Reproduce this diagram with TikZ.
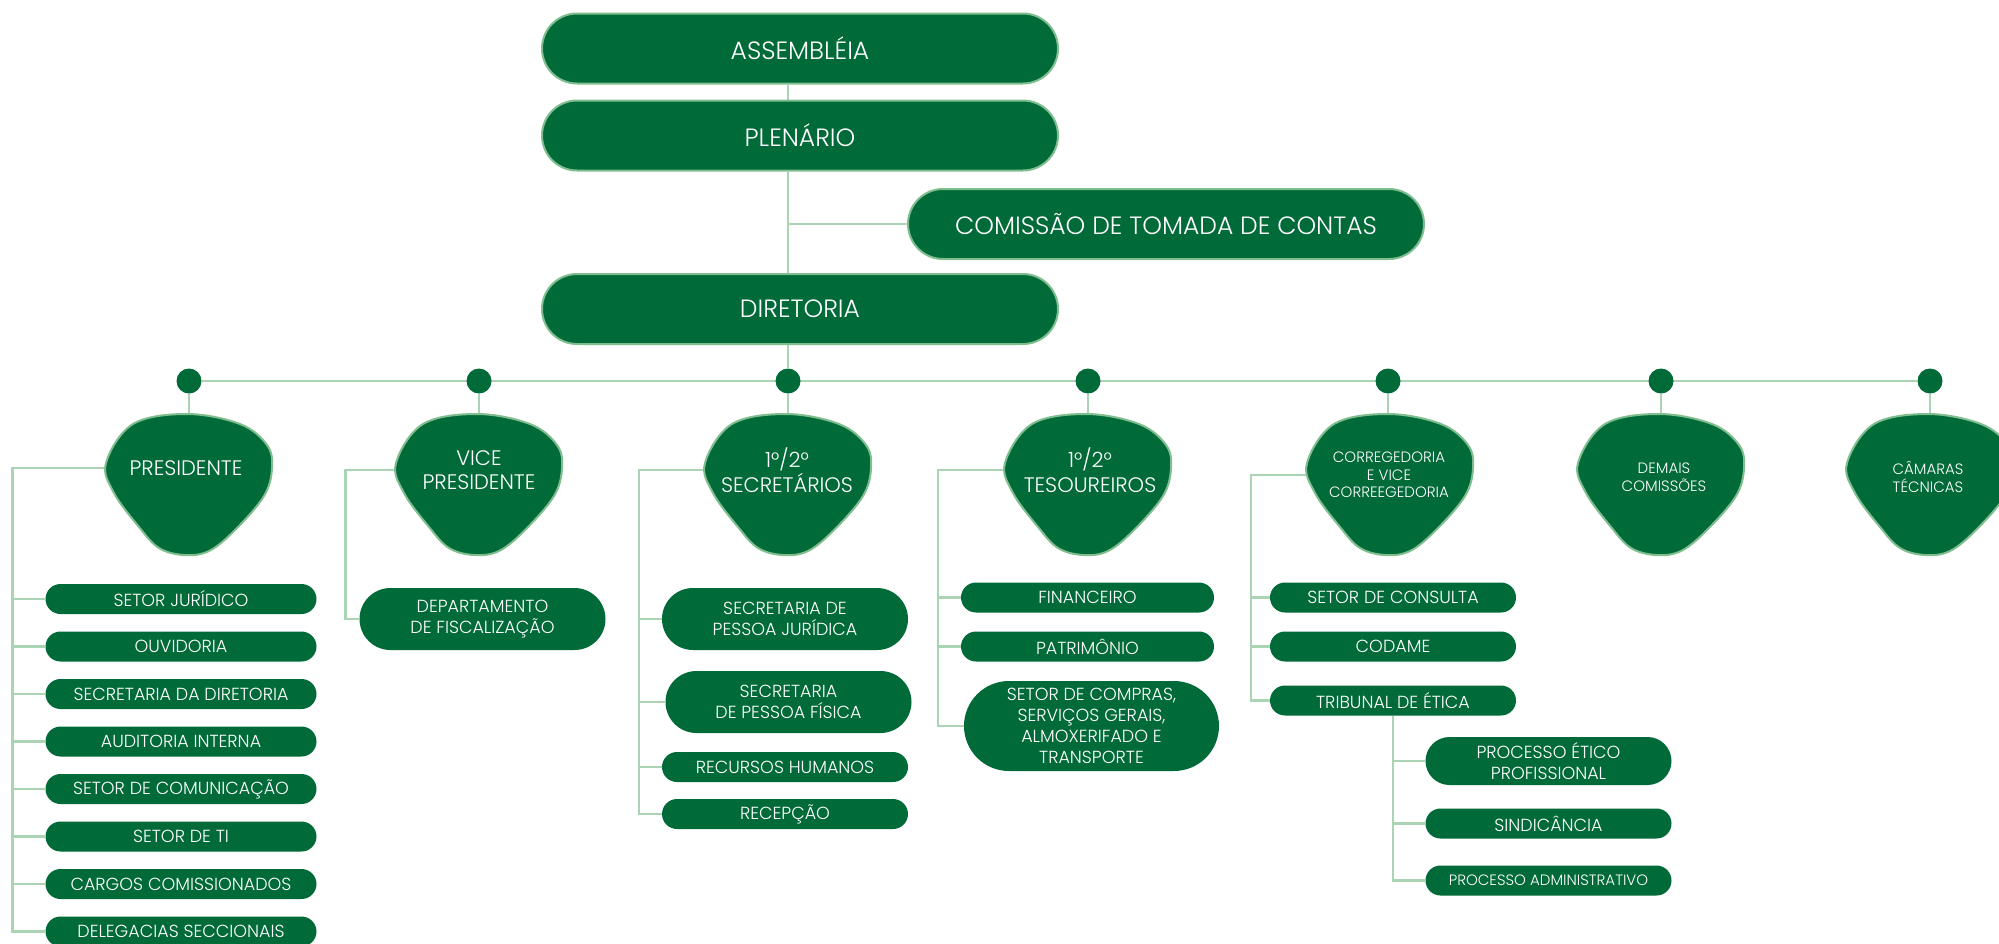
\documentclass[tikz,border=0pt]{standalone}
\usepackage{fontspec}
\setmainfont{Poppins}[UprightFont={* Light}]
\usetikzlibrary{shapes.misc}
\definecolor{dkg}{HTML}{006A38}
\definecolor{brd}{HTML}{80BE8F}
\definecolor{lin}{HTML}{AAD4B4}
\pgfdeclarelayer{back}
\pgfdeclarelayer{bg}
\pgfsetlayers{back,bg,main}
\newcommand\blobshape[1]{\fill[dkg,draw=brd,line width=2pt,shift={#1}] plot[smooth cycle,tension=0.6] coordinates {(81,0) (134,10) (161,31) (166,54) (158,82) (129,116) (103,137) (78,141) (53,134) (33,113) (8,79) (0,49) (27,10)};}
\begin{document}
\begin{tikzpicture}[x=1pt,y=-1pt,
  conn/.style={draw=lin,line width=2.6pt},
  topbox/.style={rounded rectangle,fill=dkg,draw=brd,line width=2pt,minimum width=516pt,minimum height=70pt,text=white,inner sep=0pt,font=\fontsize{25}{29}\selectfont},
  subbox/.style={rounded rectangle,fill=dkg,text=white,inner sep=0pt,align=center,minimum width=246pt,minimum height=30pt,font=\fontsize{17.5}{21}\selectfont},
  blobtxt/.style={text=white,align=center,inner sep=0pt,font=\fontsize{21}{24.5}\selectfont},
  smalltxt/.style={text=white,align=center,inner sep=0pt,font=\fontsize{15}{17.5}\selectfont},
  dot/.style={circle,fill=dkg,inner sep=0pt,minimum size=25pt}]
\begin{pgfonlayer}{back}
\fill[white] (0,0) rectangle (1999,943);
\end{pgfonlayer}
\useasboundingbox (0,0) rectangle (1999,943);

% top boxes
\node[topbox] (assem) at (800,48.5) {ASSEMBLÉIA};
\node[topbox] (plen) at (800,135.5) {PLENÁRIO};
\node[topbox] (comm) at (1166,224) {COMISSÃO DE TOMADA DE CONTAS};
\node[topbox] (diret) at (800,309) {DIRETORIA};

% dots
\foreach \n/\x in {d1/189,d2/479,d3/788,d4/1088,d5/1388,d6/1661,d7/1930}
  \node[dot] (\n) at (\x,381) {};

% blobs
\blobshape{(106,414)}
\blobshape{(396,414)}
\blobshape{(705,414)}
\blobshape{(1005,414)}
\blobshape{(1307,414)}
\blobshape{(1578,414)}
\blobshape{(1847,414)}
\node[blobtxt] (pres) at (186,468) {PRESIDENTE};
\node[blobtxt] (vp) at (479,470) {VICE\\PRESIDENTE};
\node[blobtxt] (sec) at (787,470) {1°/2°\\SECRETÁRIOS};
\node[blobtxt] (tes) at (1090,470) {1°/2°\\TESOUREIROS};
\node[smalltxt] (corr) at (1389,475) {CORREGEDORIA\\E VICE\\CORREEGEDORIA};
\node[smalltxt] (dem) at (1664,477) {DEMAIS\\COMISSÕES};
\node[smalltxt] (cam) at (1928,477) {CÂMARAS\\TÉCNICAS};
\foreach \n/\x in {b1/189,b2/479,b3/788,b4/1088,b5/1388,b6/1661,b7/1930}
  \coordinate (\n) at (\x,420);

% presidente children
\foreach \i/\t in {1/SETOR JURÍDICO,2/OUVIDORIA,3/SECRETARIA DA DIRETORIA,4/AUDITORIA INTERNA,5/SETOR DE COMUNICAÇÃO,6/SETOR DE TI,7/CARGOS COMISSIONADOS,8/DELEGACIAS SECCIONAIS}
  \node[subbox,minimum width=271pt] (c\i) at (181,551.5+47.5*\i) {\t};

% vice children
\node[subbox,minimum height=62pt] (dept) at (482.5,619) {DEPARTAMENTO\\DE FISCALIZAÇÃO};

% secretarios children
\node[subbox,minimum height=62pt] (spj) at (785,619) {SECRETARIA DE\\PESSOA JURÍDICA};
\node[subbox,minimum height=62pt] (spf) at (788.5,702) {SECRETARIA\\DE PESSOA FÍSICA};
\node[subbox] (rh) at (785,767) {RECURSOS HUMANOS};
\node[subbox] (rec) at (785,814) {RECEPÇÃO};

% tesoureiros children
\node[subbox,minimum width=253pt] (fin) at (1087.5,597.5) {FINANCEIRO};
\node[subbox,minimum width=253pt] (pat) at (1087.5,646.5) {PATRIMÔNIO};
\node[subbox,minimum width=255pt,minimum height=90pt] (comp) at (1091.5,726) {SETOR DE COMPRAS,\\SERVIÇOS GERAIS,\\ALMOXERIFADO E\\TRANSPORTE};

% corregedoria children
\node[subbox] (cons) at (1393,597.5) {SETOR DE CONSULTA};
\node[subbox] (codame) at (1393,646.5) {CODAME};
\node[subbox] (trib) at (1393,700.5) {TRIBUNAL DE ÉTICA};
\node[subbox,minimum height=48pt] (pep) at (1548.5,761) {PROCESSO ÉTICO\\PROFISSIONAL};
\node[subbox] (sind) at (1548.5,823.5) {SINDICÂNCIA};
\node[subbox,font=\fontsize{15}{18}\selectfont] (padm) at (1548.5,880.5) {PROCESSO ADMINISTRATIVO};

\begin{pgfonlayer}{bg}
\draw[conn] (assem.south -| d3) -- (plen.north -| d3);
\draw[conn] (plen.south -| d3) -- (diret.north -| d3);
\draw[conn] (comm.west -| d3) -- (comm.west);
\draw[conn] (diret.south -| d3) -- (d3);
\draw[conn] (d1) -- (d7);
\foreach \i in {1,...,7} \draw[conn] (d\i) -- (b\i);
% presidente
\draw[conn] (pres.center) -| ([xshift=-33pt]c8.west) -- (c8.west);
\foreach \i in {1,...,7} \draw[conn] (c\i.west) -- ++(-33,0);
% vice
\draw[conn] (vp.center) -| ([xshift=-14pt]dept.west) -- (dept.west);
% secretarios
\draw[conn] (sec.center) -| ([xshift=-23pt]rec.west) -- (rec.west);
\foreach \n in {spj,rh} \draw[conn] (\n.west) -- ++(-23,0);
\draw[conn] (spf.west) -- ++(-26.5,0);
% tesoureiros
\draw[conn] (tes.center) -| ([xshift=-26pt]comp.west) -- (comp.west);
\foreach \n in {fin,pat} \draw[conn] (\n.west) -- ++(-23,0);
% corregedoria
\draw[conn] (corr.center) -| ([xshift=-19pt]trib.west) -- (trib.west);
\foreach \n in {cons,codame} \draw[conn] (\n.west) -- ++(-19,0);
\draw[conn] (trib.south) -- (trib.south |- padm.west) -- (padm.west);
\foreach \n in {pep,sind} \draw[conn] (trib.south |- \n.west) -- (\n.west);
\end{pgfonlayer}
\end{tikzpicture}
\end{document}
